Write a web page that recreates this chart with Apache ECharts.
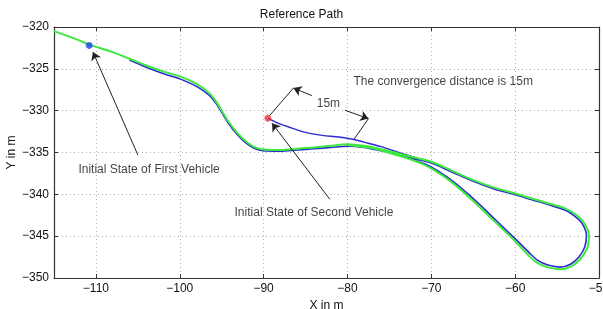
<!DOCTYPE html>
<html>
<head>
<meta charset="utf-8">
<script src="https://cdn.jsdelivr.net/npm/echarts@6/dist/echarts.min.js"></script>
<style>
  html, body { margin: 0; padding: 0; background: #fff; }
  #path-chart { width: 603px; height: 309px; }
</style>
</head>
<body>
<div id="path-chart"></div>
<script>
// tick values
var xTicks = [-110, -100, -90, -80, -70, -60, -50];
var yTicks = [-350, -345, -340, -335, -330, -325, -320];

// reference path (green) [x, y] in m
var referencePath = [
  [-115, -320.5], [-112, -321.6], [-110.8, -322.1], [-108, -323.0], [-106, -323.8],
  [-104, -324.6], [-102, -325.3], [-100, -325.9], [-98, -326.8], [-96.5, -327.9],
  [-95.6, -329.0], [-95.0, -330.0], [-94.2, -331.3], [-93.2, -332.6], [-92.2, -333.6],
  [-91.2, -334.3], [-90, -334.65], [-88, -334.7], [-86, -334.55], [-84, -334.4],
  [-82, -334.2], [-80, -334.0], [-78, -334.2], [-76, -334.6], [-74, -335.1],
  [-72, -335.6], [-70, -336.1], [-67.5, -337.2], [-65, -338.3], [-62.5, -339.2],
  [-60, -339.9], [-58, -340.5], [-56, -341.1], [-54, -341.7], [-52.8, -342.4],
  [-51.8, -343.4], [-51.2, -344.9], [-51.4, -346.4], [-52.2, -347.7], [-53.3, -348.6],
  [-54.6, -348.95], [-56.2, -348.7], [-57.5, -348.1], [-58.5, -347.2], [-60, -345.6],
  [-62.5, -343.2], [-65, -340.8], [-67.5, -338.6], [-69.5, -337.2], [-71, -336.4],
  [-72.5, -335.8], [-74.5, -335.2], [-77, -334.5], [-80, -334.1]
];

// first vehicle (blue)
var firstVehicle = [
  [-106, -323.95], [-104, -324.8], [-102, -325.55], [-100, -326.2], [-98, -327.1],
  [-96.5, -328.15], [-95.7, -329.1], [-95.0, -330.2], [-94.2, -331.5], [-93.2, -332.8],
  [-92.2, -333.8], [-91.2, -334.45], [-90, -334.8], [-88, -334.85], [-86, -334.7],
  [-84, -334.55], [-82, -334.4], [-80, -334.25], [-78, -334.4], [-76, -334.8],
  [-74, -335.25], [-72, -335.75], [-70, -336.25], [-67.5, -337.35], [-65, -338.45],
  [-62.5, -339.35], [-60, -340.05], [-58, -340.65], [-56, -341.25], [-54, -341.9],
  [-52.9, -342.6], [-52.0, -343.5], [-51.5, -344.9], [-51.7, -346.3], [-52.4, -347.5],
  [-53.4, -348.35], [-54.6, -348.7], [-56.1, -348.45], [-57.3, -347.9], [-58.3, -347.0],
  [-59.8, -345.5], [-62.3, -343.1], [-64.8, -340.7], [-67.3, -338.55], [-69.3, -337.15],
  [-70.8, -336.35], [-72.5, -335.75], [-74.5, -335.15], [-77, -334.45], [-80, -334.05]
];

// second vehicle (blue), converging onto the path
var secondVehicle = [
  [-89.5, -330.9], [-88.5, -331.4], [-87, -331.95], [-85, -332.6], [-83, -332.95],
  [-81, -333.15], [-79.2, -333.45], [-77.5, -333.9], [-76, -334.3], [-74, -334.95],
  [-72, -335.6]
];

var firstStart = [-110.8, -322.2];
var secondStart = [-89.5, -330.9];

// annotation arrows [from, to]
var arrowLines = [
  [[-105.0, -335.3], [-110.35, -323.0]],
  [[-82.1, -340.6], [-89.0, -331.5]],
  [[-84.25, -328.2], [-86.45, -327.3]],
  [[-80.3, -329.95], [-77.5, -330.95]]
];
// dimension arms (no head)
var armLines = [
  [[-89.3, -330.6], [-86.45, -327.3]],
  [[-79.2, -333.4], [-77.5, -330.95]]
];

// annotation texts [x, y, text]
var notes = [
  [-103.66, -337.0, 'Initial State of First Vehicle'],
  [-84.0, -342.25, 'Initial State of Second Vehicle'],
  [-82.27, -329.15, '15m'],
  [-68.58, -326.5, 'The convergence distance is 15m']
];

var asterisk = 'path://M0,-1L0,1M-1,0L1,0M-0.7,-0.7L0.7,0.7M-0.7,0.7L0.7,-0.7';
var fontFam = 'Liberation Sans, Arial, sans-serif';

function minusFmt(v) { return String(v).replace('-', '\u2212'); }

var dotted = { show: true, lineStyle: { color: '#b0b0b0', type: [1, 3], width: 1 } };
var axisLine = { show: true, onZero: false, lineStyle: { color: '#333', width: 1.2 } };

var option = {
  animation: false,
  backgroundColor: '#fff',
  title: {
    text: 'Reference Path',
    left: 'center',
    top: 4,
    textStyle: { fontSize: 12, fontWeight: 'normal', color: '#111', fontFamily: fontFam }
  },
  grid: { left: 54, right: 4, top: 27, bottom: 31, containLabel: false, outerBoundsMode: 'none' },
  xAxis: [{
    type: 'value', min: -115, max: -50, position: 'bottom',
    name: 'X in m', nameLocation: 'middle', nameGap: 22, nameMoveOverlap: false,
    nameTextStyle: { fontSize: 12, color: '#111', fontFamily: fontFam },
    axisLine: axisLine,
    axisTick: { inside: true, length: 4, customValues: xTicks, lineStyle: { color: '#333' } },
    axisLabel: { customValues: xTicks, formatter: minusFmt, fontSize: 12, color: '#111', fontFamily: fontFam, margin: 5 },
    splitLine: dotted
  }, {
    type: 'value', min: -115, max: -50, position: 'top',
    axisLine: axisLine,
    axisTick: { inside: true, length: 4, customValues: xTicks, lineStyle: { color: '#333' } },
    axisLabel: { show: false },
    splitLine: { show: false }
  }],
  yAxis: [{
    type: 'value', min: -350, max: -320, interval: 5, position: 'left',
    name: 'Y in m', nameLocation: 'middle', nameGap: 36, nameMoveOverlap: false,
    nameTextStyle: { fontSize: 12, color: '#111', fontFamily: fontFam },
    axisLine: axisLine,
    axisTick: { inside: true, length: 4, lineStyle: { color: '#333' } },
    axisLabel: { formatter: minusFmt, fontSize: 12, color: '#111', fontFamily: fontFam, margin: 5 },
    splitLine: dotted
  }, {
    type: 'value', min: -350, max: -320, interval: 5, position: 'right',
    axisLine: axisLine,
    axisTick: { inside: true, length: 4, lineStyle: { color: '#333' } },
    axisLabel: { show: false },
    splitLine: { show: false }
  }],
  series: [
    {
      type: 'line', data: firstVehicle, smooth: 0.3, showSymbol: false, z: 2,
      lineStyle: { color: '#2a2ad0', width: 1.6 }
    },
    {
      type: 'line', data: secondVehicle, smooth: 0.3, showSymbol: false, z: 2,
      lineStyle: { color: '#2a2ad0', width: 1.4 }
    },
    {
      type: 'line', data: referencePath, smooth: 0.3, showSymbol: false, z: 3,
      lineStyle: { color: '#3ee83e', width: 2 }
    },
    {
      type: 'scatter', data: [firstStart], symbol: asterisk, symbolSize: 7, z: 5,
      itemStyle: { color: 'transparent', borderColor: '#1f3cf0', borderWidth: 2 }
    },
    {
      type: 'scatter', data: [secondStart], symbol: asterisk, symbolSize: 7, z: 5,
      itemStyle: { color: 'transparent', borderColor: '#f03030', borderWidth: 2 }
    },
    {
      type: 'lines', coordinateSystem: 'cartesian2d', z: 6,
      symbol: ['none', 'arrow'], symbolSize: 8,
      lineStyle: { color: '#222', width: 1, opacity: 1 },
      data: arrowLines.map(function (c) { return { coords: c }; })
    },
    {
      type: 'lines', coordinateSystem: 'cartesian2d', z: 6,
      symbol: ['none', 'none'],
      lineStyle: { color: '#222', width: 1, opacity: 1 },
      data: armLines.map(function (c) { return { coords: c }; })
    },
    {
      type: 'scatter', symbolSize: 0, z: 7, silent: true,
      data: notes.map(function (n) { return { value: [n[0], n[1]], name: n[2] }; }),
      label: {
        show: true, position: 'inside', formatter: '{b}',
        fontSize: 12, color: '#111', fontFamily: fontFam
      }
    }
  ]
};

var chart = echarts.init(document.getElementById('path-chart'));
chart.setOption(option);
</script>
</body>
</html>
